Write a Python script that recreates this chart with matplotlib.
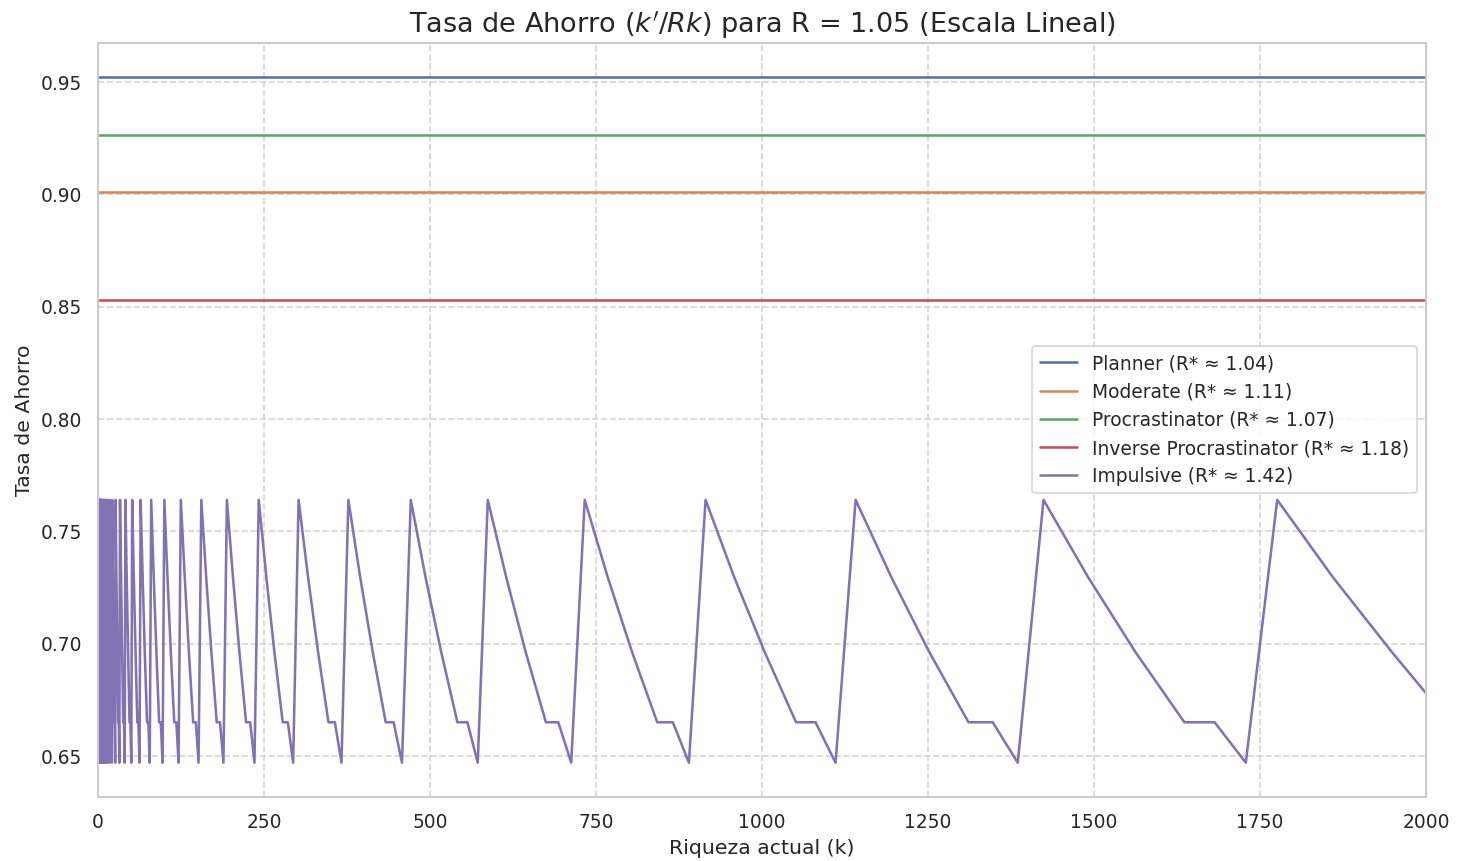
import numpy as np
import matplotlib
matplotlib.use("Agg")
import matplotlib.pyplot as plt
import seaborn as sns

sns.set_theme(style="whitegrid", context="notebook")
plt.rcParams['font.family'] = ['DejaVu Sans']

R = 1.05
k_max = 2000

# flat savings rates for the first four types
agent_names = ['Planner', 'Moderate', 'Procrastinator', 'Inverse Procrastinator', 'Impulsive']
r_star = [1.04, 1.11, 1.07, 1.18, 1.42]
flat_rates = [0.9522, 0.9010, 0.9264, 0.8530]

# impulsive type: sawtooth cycles (k at each vertex of a cycle)
peak_k = [1.19, 1.48, 1.85, 2.3, 2.9, 3.6, 4.5, 5.6, 7.0, 8.7, 10.9, 13.6, 17.0, 21.2,
          26.4, 33.0, 41.2, 51.4, 64.1, 80.0, 99.8, 124.6, 155.5, 194, 242, 302, 377,
          471, 587, 733, 915, 1141, 1424]
mid1_k = [1.25, 1.55, 1.94, 2.41, 3.04, 3.77, 4.71, 5.86, 7.33, 9.11, 11.4, 14.2, 17.8,
          22.2, 27.6, 34.6, 43.1, 53.8, 67.1, 83.8, 104.5, 130.5, 162.8, 203.1, 253.4,
          316.2, 394.7, 493.1, 614.6, 767.5, 958.0, 1194.6, 1490.9]
mid2_k = [1.31, 1.62, 2.03, 2.52, 3.18, 3.95, 4.94, 6.14, 7.68, 9.54, 12.0, 14.9, 18.6,
          23.3, 29.0, 36.2, 45.2, 56.4, 70.3, 87.8, 109.5, 136.7, 170.6, 212.8, 265.5,
          331.3, 413.6, 516.7, 643.9, 804.1, 1003.8, 1251.7, 1562.1]
flat_start_k = [1.37, 1.70, 2.13, 2.64, 3.33, 4.14, 5.17, 6.43, 8.04, 10.0, 12.5, 15.6,
                19.5, 24.4, 30.3, 37.9, 47.3, 59.1, 73.7, 91.9, 114.7, 143.2, 178.7,
                222.9, 278.1, 347.0, 433.2, 541.2, 674.5, 842.2, 1051.3, 1311.0, 1636.2]
flat_end_k = [1.41, 1.75, 2.18, 2.72, 3.42, 4.25, 5.31, 6.61, 8.27, 10.3, 12.9, 16.1,
              20.1, 25.0, 31.2, 39.0, 48.7, 60.7, 75.7, 94.5, 117.9, 147.2, 183.6,
              229.1, 285.8, 356.7, 445.2, 556.3, 693.2, 865.7, 1080.6, 1347.5, 1681.7]
trough_k = [1.44, 1.80, 2.25, 2.79, 3.52, 4.37, 5.46, 6.80, 8.50, 10.6, 13.2, 16.5,
            20.6, 25.7, 32.0, 40.1, 50.0, 62.4, 77.8, 97.1, 121.2, 151.3, 188.8,
            235.5, 293.8, 366.6, 457.7, 571.8, 712.6, 889.9, 1110.8, 1385.2, 1728.7]
peak_rate = 0.764
mid1_rate = 0.7297
mid2_rate = 0.6964
flat_rate = 0.665
trough_rate = 0.647
tail_k = [1776, 1859.5, 1948.3, 2000]
tail_rate = [0.764, 0.7297, 0.6964, 0.678]

imp_k, imp_rate = [], []
for i in range(len(peak_k)):
    imp_k += [peak_k[i], mid1_k[i], mid2_k[i], flat_start_k[i], flat_end_k[i], trough_k[i]]
    imp_rate += [peak_rate, mid1_rate, mid2_rate, flat_rate, flat_rate, trough_rate]
imp_k += tail_k
imp_rate += tail_rate

colors = sns.color_palette("deep")

fig, ax = plt.subplots(figsize=(12, 7.06), dpi=122)
fig.subplots_adjust(left=0.067, right=0.974, top=0.950, bottom=0.0743)

k_line = [imp_k[0], k_max]
for i in range(4):
    ax.plot(k_line, [flat_rates[i]] * 2, color=colors[i], lw=1.5,
            label=f'{agent_names[i]} (R* ≈ {r_star[i]:.2f})')
ax.plot(imp_k, imp_rate, color=colors[4], lw=1.5,
        label=f'{agent_names[4]} (R* ≈ {r_star[4]:.2f})')

ax.set_xlim(0, k_max)
ax.set_title(f"Tasa de Ahorro ($k'/Rk$) para R = {R} (Escala Lineal)", fontsize=16)
ax.set_xlabel('Riqueza actual (k)', fontsize=12)
ax.set_ylabel('Tasa de Ahorro', fontsize=12)
ax.tick_params(labelsize=11)
ax.grid(True, linestyle='--', alpha=0.8)
ax.legend(loc='center right', fontsize=11)

fig.savefig('out.png', dpi=122)
